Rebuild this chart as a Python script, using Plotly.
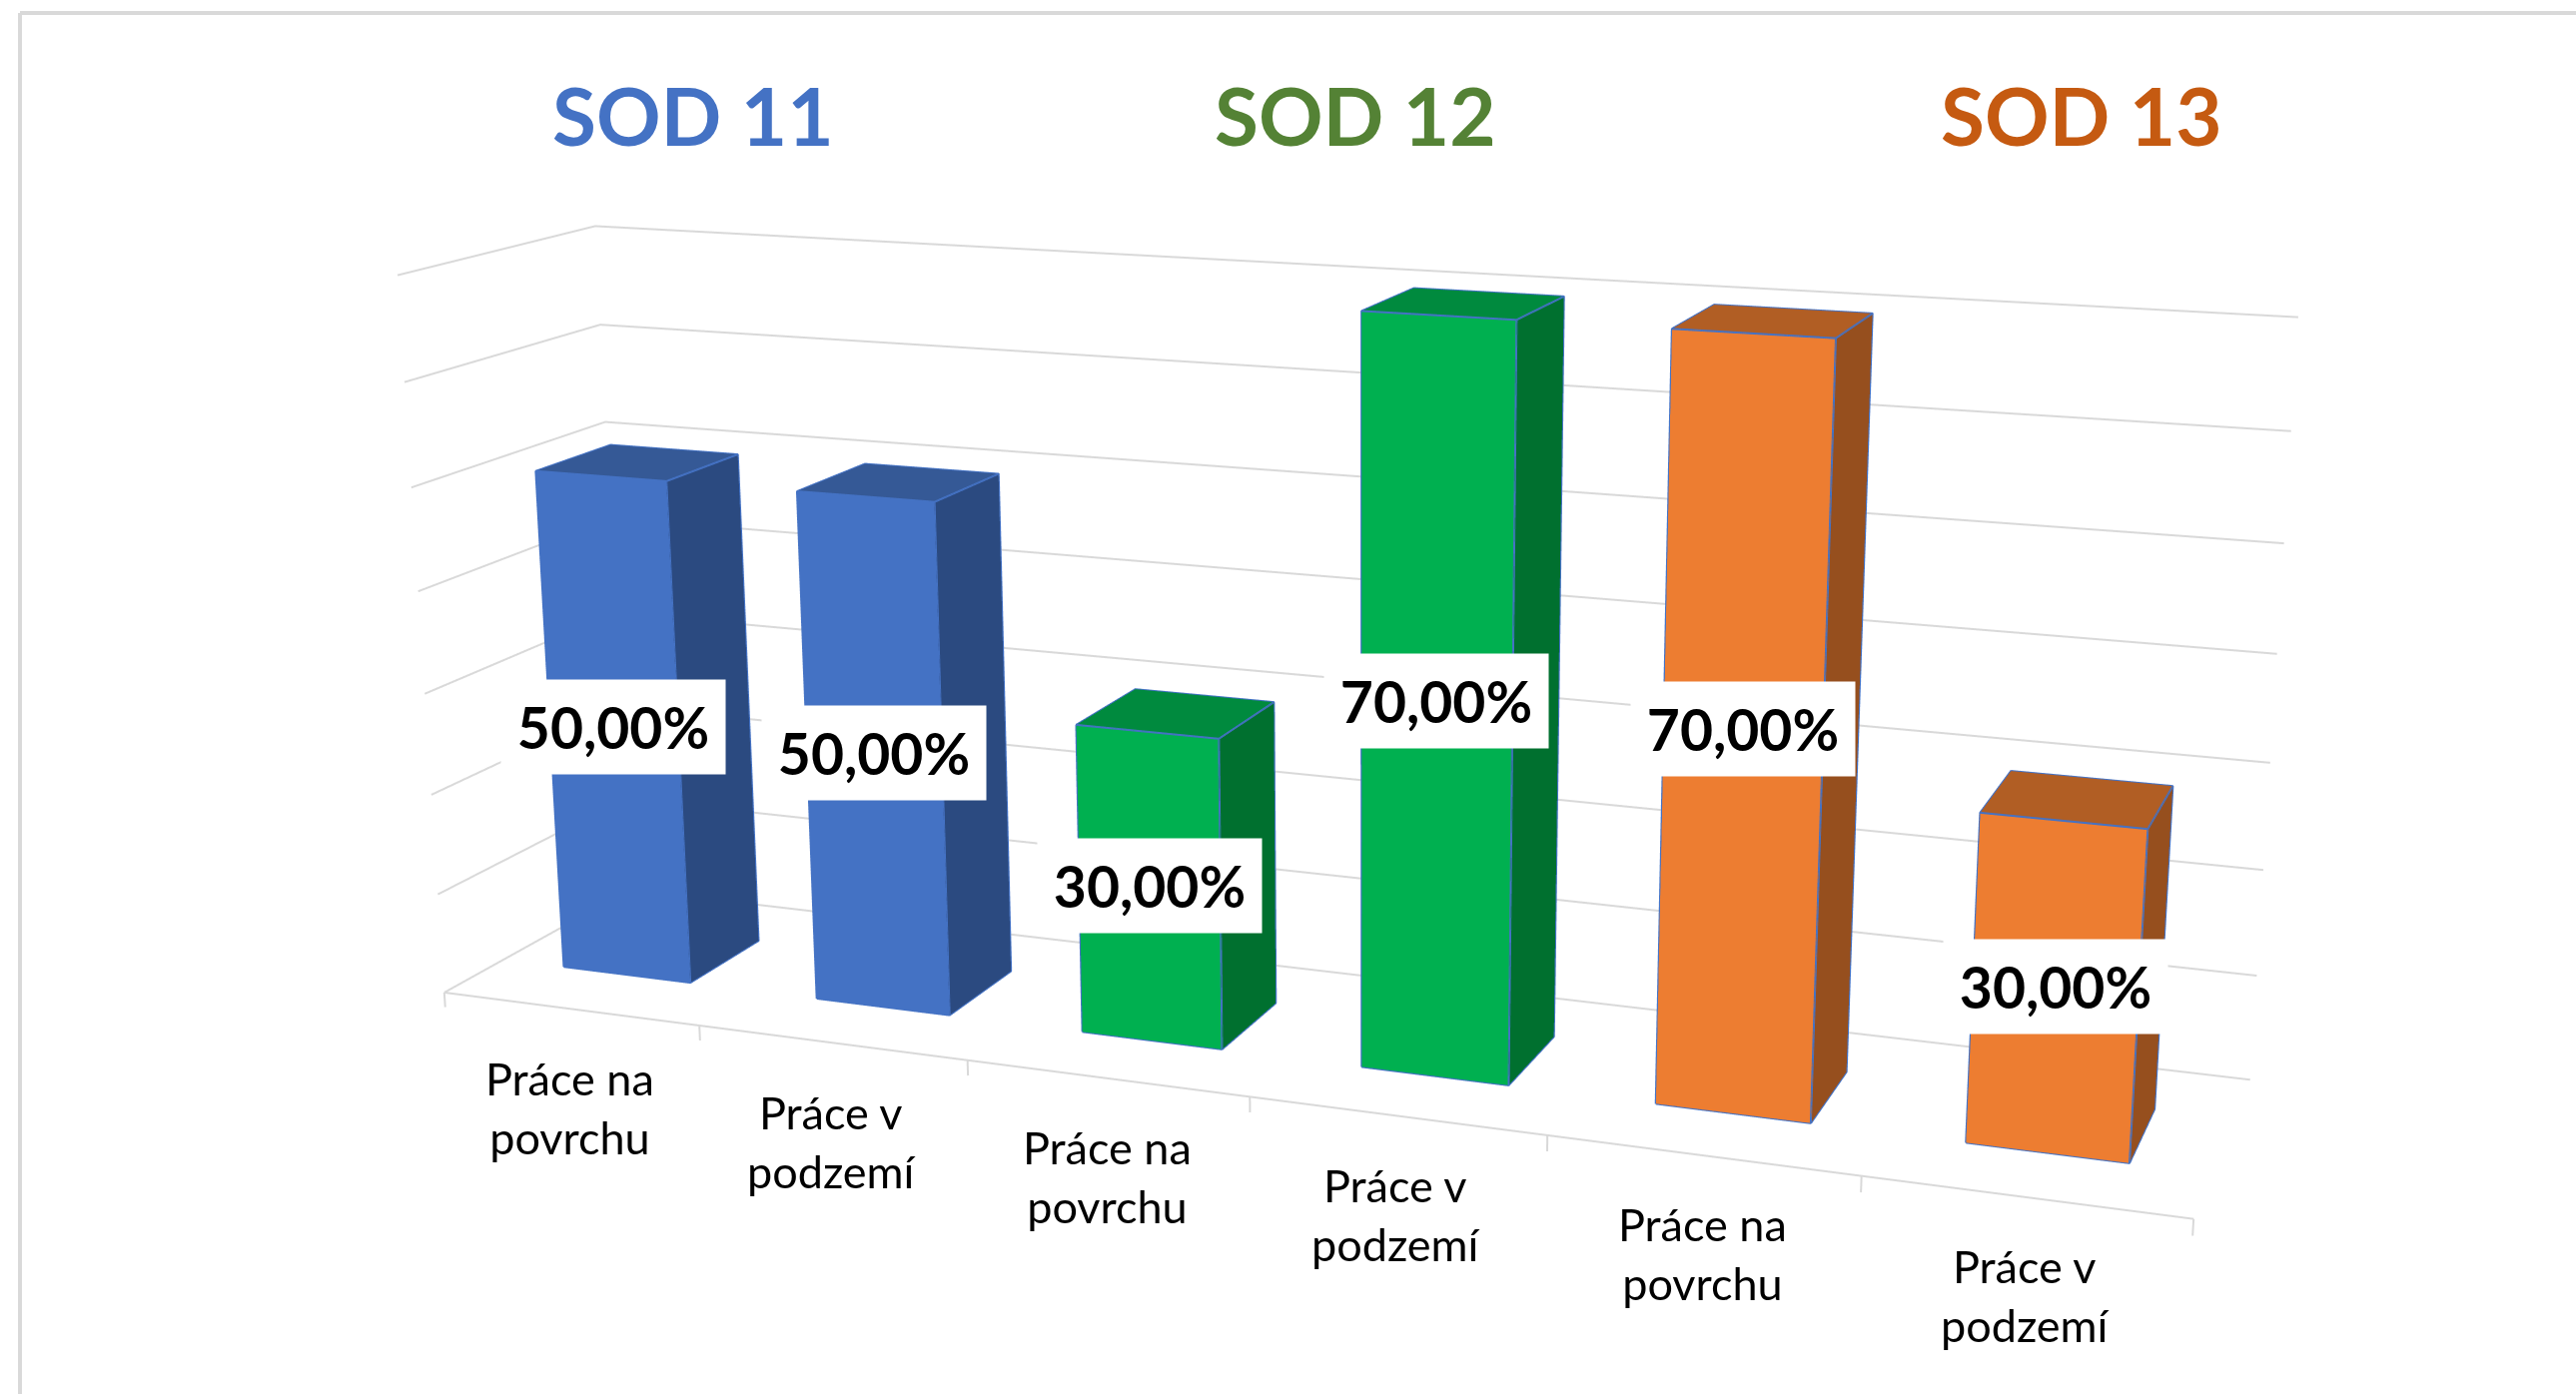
import plotly.graph_objects as go

W, H = 2579, 1396

# ---- data ----
categories = ["Práce na<br>povrchu", "Práce v<br>podzemí", "Práce na<br>povrchu",
              "Práce v<br>podzemí", "Práce na<br>povrchu", "Práce v<br>podzemí"]
values = [50, 50, 30, 70, 70, 30]
value_labels = ["50,00%", "50,00%", "30,00%", "70,00%", "70,00%", "30,00%"]
group_titles = ["SOD 11", "SOD 12", "SOD 13"]
gridlines = [0, 10, 20, 30, 40, 50, 60, 70]

# ---- style ----
front_colors = ["#4472C4", "#4472C4", "#00B050", "#00B050", "#ED7D31", "#ED7D31"]
side_colors = ["#2B4A80", "#2B4A80", "#00702F", "#00702F", "#964F1E", "#964F1E"]
top_colors = ["#355996", "#355996", "#008A3E", "#008A3E", "#B15E24", "#B15E24"]
title_colors = ["#4472C4", "#548235", "#C55A11"]
title_x = [694, 1357, 2084]
EDGE = "#4472C4"
GRID = "#D9D9D9"
FONT = "Lato"

# bar footprint inside its category slot / depth of the floor
BX0, BX1 = 0.2433, 0.7498
BY0, BY1 = 0.3054, 0.7002

# view: the reference has a much longer lens than Plotly's fixed one, so the
# scene is slanted to give the same vanishing lines (z stays the true value)
SH_XY, SH_XZ, SH_YZ = 0.3590, -0.2013, 1.5413
ASPECT = dict(x=4.0864, y=1.3931, z=1.0883)
EYE = dict(x=0.3511, y=-1.8055, z=1.2071)
CENTER = dict(x=0.0135, y=0.0857, z=0.0382)


def sx(x, y, z):
    return x + SH_XY * y + SH_XZ * z / 70


def sy(y, z):
    return y + SH_YZ * z / 70


def line3d(points, color, width):
    return go.Scatter3d(
        x=[sx(*p) for p in points],
        y=[sy(p[1], p[2]) for p in points],
        z=[p[2] for p in points],
        mode="lines",
        line=dict(color=color, width=width),
        hoverinfo="skip",
    )


fig = go.Figure()

# walls and floor gridlines
for g in gridlines:
    fig.add_trace(line3d([(0, 0, g), (0, 1, g), (6, 1, g)], GRID, 4))
fig.add_trace(line3d([(0, 0, 0), (6, 0, 0)], GRID, 4))
for i in range(7):
    fig.add_trace(line3d([(i, 0, 0), (i, 0, -1.5)], GRID, 4))

# bars
for i, v in enumerate(values):
    x0, x1 = i + BX0, i + BX1
    corners = [(x0, BY0, 0), (x1, BY0, 0), (x1, BY1, 0), (x0, BY1, 0),
               (x0, BY0, v), (x1, BY0, v), (x1, BY1, v), (x0, BY1, v)]
    fig.add_trace(go.Mesh3d(
        x=[sx(*c) for c in corners],
        y=[sy(c[1], c[2]) for c in corners],
        z=[c[2] for c in corners],
        i=[0, 0, 1, 1, 4, 4],
        j=[1, 5, 2, 6, 5, 6],
        k=[5, 4, 6, 5, 6, 7],
        facecolor=[front_colors[i], front_colors[i], side_colors[i],
                   side_colors[i], top_colors[i], top_colors[i]],
        flatshading=True,
        lighting=dict(ambient=1, diffuse=0, specular=0, roughness=1, fresnel=0),
        hoverinfo="skip",
    ))
    c = corners
    fig.add_trace(line3d([c[0], c[1], c[5], c[4], c[0]], EDGE, 4))
    fig.add_trace(line3d([c[1], c[2], c[6], c[7], c[4]], EDGE, 4))
    fig.add_trace(line3d([c[5], c[6]], EDGE, 4))

# value labels sit on the centre of each front face, category labels below the floor
scene_notes = []
for i, v in enumerate(values):
    x, y, z = i + (BX0 + BX1) / 2, BY0, v * 0.506
    scene_notes.append(dict(
        x=sx(x, y, z), y=sy(y, z), z=z, text=value_labels[i], showarrow=False,
        xanchor="center", yanchor="middle", bgcolor="white", width=222, height=92,
        font=dict(family=FONT, size=57, color="black", weight="bold"),
    ))
    scene_notes.append(dict(
        x=sx(i + 0.5, 0, 0), y=sy(0, 0), z=0, text=categories[i], showarrow=False,
        xanchor="center", yanchor="middle", xshift=0, yshift=-99,
        font=dict(family=FONT, size=45, color="black"),
    ))

fig.update_layout(
    width=W, height=H,
    margin=dict(l=0, r=0, t=0, b=0),
    paper_bgcolor="white",
    showlegend=False,
    scene=dict(
        domain=dict(x=[0, 1], y=[0, 1]),
        aspectmode="manual",
        aspectratio=ASPECT,
        camera=dict(eye=EYE, center=CENTER, up=dict(x=0, y=0, z=1)),
        xaxis=dict(range=[-2, 8], visible=False),
        yaxis=dict(range=[-2, 3], visible=False),
        zaxis=dict(range=[-5, 75], visible=False),
        annotations=scene_notes,
    ),
    annotations=[
        dict(text=t, x=px / W, y=1 - 115 / H, xref="paper", yref="paper",
             xanchor="center", yanchor="middle", showarrow=False,
             font=dict(family=FONT, size=80, color=c, weight="bold"))
        for t, px, c in zip(group_titles, title_x, title_colors)
    ],
    shapes=[
        dict(type="line", xref="paper", yref="paper", x0=20 / W, x1=20 / W, y0=0, y1=1 - 13 / H,
             line=dict(color=GRID, width=4)),
        dict(type="line", xref="paper", yref="paper", x0=20 / W, x1=1, y0=1 - 13 / H, y1=1 - 13 / H,
             line=dict(color=GRID, width=4)),
    ],
)

fig.write_html("out.html", config=dict(displayModeBar=False),
               post_script="document.body.style.margin='0';document.documentElement.style.overflow='hidden';")
